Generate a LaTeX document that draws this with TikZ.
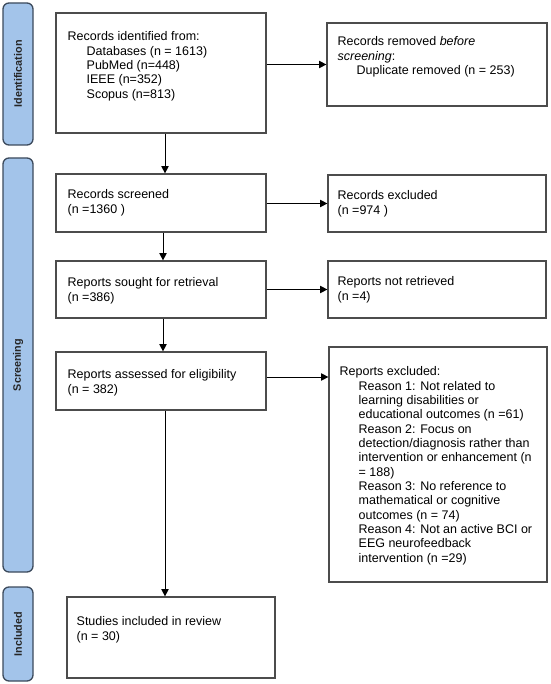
\documentclass[tikz,border=0pt]{standalone}
\usepackage{fontspec}
\setmainfont{Liberation Sans}
\usetikzlibrary{arrows.meta,fit,positioning}

\definecolor{phasefill}{HTML}{A3C4EA}
\definecolor{phaseline}{HTML}{3C4A5C}
\newcommand{\indt}{\hspace*{14.25pt}}

\begin{document}
\begin{tikzpicture}[x=0.75pt,y=-0.75pt,
  frame/.style={draw=black!70, line width=0.9pt, inner sep=0pt},
  txt/.style={anchor=north west, inner sep=0pt, align=left,
    font=\fontsize{9.375}{10.75}\selectfont},
  phase/.style={draw=phaseline, fill=phasefill, line width=1pt,
    rounded corners=4.5pt, rotate=90, minimum height=22.5pt, inner sep=0pt,
    font=\fontsize{8.1}{9}\selectfont\bfseries, text=black!85},
  link/.style={line width=0.75pt, -{Triangle[length=5.5pt,width=5.5pt]}}]

\useasboundingbox (0,0) rectangle (550,684);

% Phase bars
\node[phase, minimum width=106.5pt] (idphase) at (18,74) {Identification};
\node[phase, minimum width=310.5pt] (scphase) at (18,365) {Screening};
\node[phase, minimum width=70.5pt] (inphase) at (18,634) {Included};

% Boxes, left column
\node[frame, fit={(56,13) (266,133)}] (ident) {};
\node[frame, fit={(56,174) (266,232)}] (screen) {};
\node[frame, fit={(56,261) (266,318)}] (sought) {};
\node[frame, fit={(56,352) (266,410)}] (assess) {};
\node[frame, fit={(67,597) (275,678)}] (incl) {};

% Boxes, right column
\node[frame, fit={(327,23) (547,106)}] (removed) {};
\node[frame, fit={(328,175) (546,232)}] (excl) {};
\node[frame, fit={(328,261) (546,318)}] (notretr) {};
\node[frame, fit={(329,347) (547,582)}] (rexcl) {};

% Texts
\node[txt] (identtxt) at ([shift={(12,19)}]ident.north west)
  {Records identified from:\\
   \indt Databases (n = 1613)\\
   \indt PubMed (n=448)\\
   \indt IEEE (n=352)\\
   \indt Scopus (n=813)};
\node[txt] (removedtxt) at ([shift={(11,14)}]removed.north west)
  {Records removed \textit{before}\\
   \textit{screening}:\\
   \indt Duplicate removed (n = 253)};
\node[txt] (screentxt) at ([shift={(12,16)}]screen.north west)
  {Records screened\\(n =1360 )};
\node[txt] (excltxt) at ([shift={(10,16)}]excl.north west)
  {Records excluded\\(n =974 )};
\node[txt] (soughttxt) at ([shift={(12,17)}]sought.north west)
  {Reports sought for retrieval\\(n =386)};
\node[txt] (notretrtxt) at ([shift={(10,16)}]notretr.north west)
  {Reports not retrieved\\(n =4)};
\node[txt] (assesstxt) at ([shift={(12,18)}]assess.north west)
  {Reports assessed for eligibility\\(n = 382)};
\node[txt] (rexcltxt) at ([shift={(11,20)}]rexcl.north west)
  {Reports excluded:\\
   \indt Reason 1: Not related to\\
   \indt learning disabilities or\\
   \indt educational outcomes (n =61)\\
   \indt Reason 2: Focus on\\
   \indt detection/diagnosis rather than\\
   \indt intervention or enhancement (n\\
   \indt = 188)\\
   \indt Reason 3: No reference to\\
   \indt mathematical or cognitive\\
   \indt outcomes (n = 74)\\
   \indt Reason 4: Not an active BCI or\\
   \indt EEG neurofeedback\\
   \indt intervention (n =29)};
\node[txt] (incltxt) at ([shift={(10,20)}]incl.north west)
  {Studies included in review\\(n = 30)};

% Arrows down
\draw[link] ([xshift=3pt]ident.south) -- ([xshift=3pt]ident.south |- screen.north);
\draw[link] ([xshift=1.5pt]screen.south) -- ([xshift=1.5pt]screen.south |- sought.north);
\draw[link] ([xshift=1.5pt]sought.south) -- ([xshift=1.5pt]sought.south |- assess.north);
\draw[link] ([xshift=3pt]assess.south) -- ([xshift=3pt]assess.south |- incl.north);

% Arrows right
\draw[link] (ident.east |- removed.west) -- (removed.west);
\draw[link] (screen.east |- excl.west) -- (excl.west);
\draw[link] (sought.east |- notretr.west) -- (notretr.west);
\draw[link] ([yshift=3pt]assess.east) -- ([yshift=3pt]assess.east -| rexcl.west);

\end{tikzpicture}
\end{document}
